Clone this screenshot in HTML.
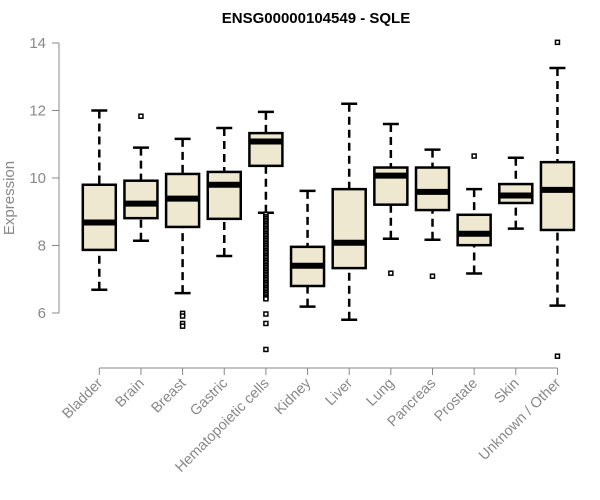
<!DOCTYPE html>
<html><head><meta charset="utf-8"><style>
body{margin:0;background:#fff;}
svg{display:block;font-family:"Liberation Sans",Arial,sans-serif;}
</style></head><body>
<svg id="chart" width="600" height="500">
<text x="316" y="23" text-anchor="middle" font-weight="bold" font-size="15" fill="#000">ENSG00000104549 - SQLE</text>
<text transform="translate(14,198) rotate(-90)" text-anchor="middle" font-size="15" fill="#888">Expression</text>
<g id="axes"></g>
<g id="boxes"></g>
</svg>
<script>
const categories=["Bladder","Brain","Breast","Gastric","Hematopoietic cells","Kidney","Liver","Lung","Pancreas","Prostate","Skin","Unknown / Other"];
const whiskerHigh=[12.0,10.9,11.16,11.48,11.96,9.62,12.2,11.6,10.84,9.67,10.6,13.26];
const q3=[9.8,9.92,10.12,10.18,11.33,7.96,9.67,10.31,10.31,8.91,9.82,10.47];
const medians=[8.68,9.24,9.39,9.8,11.08,7.4,8.08,10.07,9.59,8.35,9.48,9.65];
const q1=[7.87,8.81,8.55,8.79,10.36,6.8,7.33,9.21,9.05,8.01,9.26,8.46];
const whiskerLow=[6.69,8.14,6.59,7.69,8.97,6.19,5.8,8.2,8.17,7.17,8.5,6.22];
const outliers=[[],[11.83],[5.99,5.91,5.69,5.61],[],
[8.92,8.85,8.8,8.75,8.7,8.65,8.6,8.55,8.5,8.45,8.4,8.35,8.3,8.25,8.2,8.15,8.1,8.05,8.0,7.95,7.9,7.85,7.8,7.75,7.7,7.65,7.6,7.55,7.5,7.45,7.4,7.35,7.3,7.25,7.2,7.15,7.1,7.05,7.0,6.95,6.9,6.85,6.8,6.75,6.7,6.65,6.6,6.55,6.5,6.45,6.42,5.97,5.69,4.92],
[],[],[7.18],[7.09],[10.65],[],[14.02,4.72]];
const yTicks=[6,8,10,12,14];

const NS="http://www.w3.org/2000/svg";
const gA=document.getElementById('axes'), gB=document.getElementById('boxes');
const y=v=>313-(v-6)*33.75;
const x=i=>99.3+i*41.65;
function el(t,a,p){const e=document.createElementNS(NS,t);for(const k in a)e.setAttribute(k,a[k]);p.appendChild(e);return e;}

let ya=el('line',{x1:59,x2:59,y1:y(6),y2:y(14),stroke:'#888','stroke-width':1},gA);


yTicks.forEach(t=>{
 const tk=el('line',{x1:52,x2:59,y1:y(t),y2:y(t),stroke:'#888'},gA);
 
 
 const lb=el('text',{x:46,y:y(t)+5,'text-anchor':'end','font-size':15,fill:'#888'},gA);
 lb.textContent=t;
 
 
});
let xa=el('line',{x1:x(0),x2:x(categories.length-1),y1:368,y2:368,stroke:'#888'},gA);


categories.forEach((c,i)=>{
 const tk=el('line',{x1:x(i),x2:x(i),y1:368,y2:375,stroke:'#888'},gA);
 
 
 const lb=el('text',{transform:`translate(${x(i)+4},384) rotate(-45)`,'text-anchor':'end','font-size':14.5,fill:'#888'},gA);
 lb.textContent=c;
 
 
});
const hw=16.5;
categories.forEach((c,i)=>{
 const g=el('g',{},gB);
 
 
 const cx=x(i);
 el('line',{x1:cx,x2:cx,y1:y(whiskerHigh[i]),y2:y(q3[i]),stroke:'#000','stroke-width':2.5,'stroke-dasharray':'8,5'},g);
 el('line',{x1:cx,x2:cx,y1:y(whiskerLow[i]),y2:y(q1[i]),stroke:'#000','stroke-width':2.5,'stroke-dasharray':'8,5'},g);
 el('line',{x1:cx-8,x2:cx+8,y1:y(whiskerHigh[i]),y2:y(whiskerHigh[i]),stroke:'#000','stroke-width':2.5},g);
 el('line',{x1:cx-8,x2:cx+8,y1:y(whiskerLow[i]),y2:y(whiskerLow[i]),stroke:'#000','stroke-width':2.5},g);
 el('rect',{x:cx-hw,y:y(q3[i]),width:hw*2,height:y(q1[i])-y(q3[i]),fill:'#ede8cf',stroke:'#000','stroke-width':2.5},g);
 el('line',{x1:cx-hw,x2:cx+hw,y1:y(medians[i]),y2:y(medians[i]),stroke:'#000','stroke-width':6},g);
 outliers[i].forEach(v=>{
  const o=el('rect',{x:cx-2,y:y(v)-2,width:4,height:4,fill:'#fff',stroke:'#000','stroke-width':1.5},g);
  
  
 });
});
</script>
</body></html>
